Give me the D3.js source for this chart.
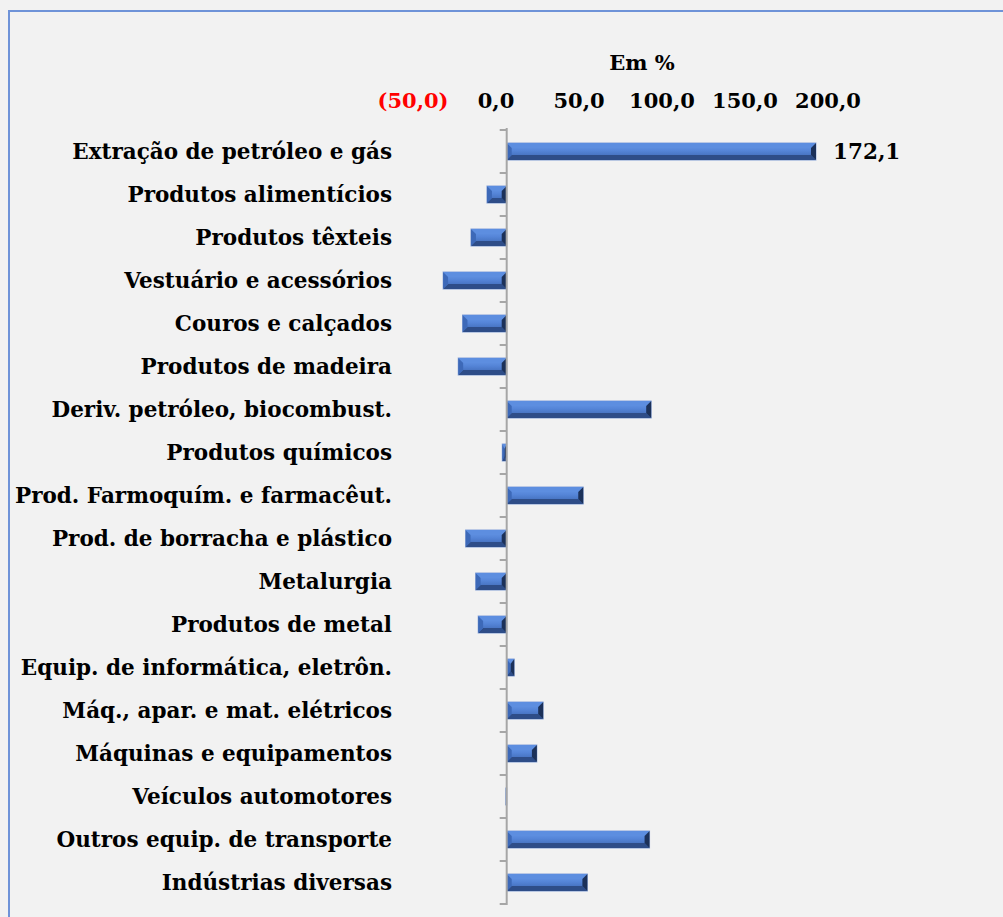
<!DOCTYPE html>
<html>
<head>
<meta charset="utf-8">
<script src="https://cdn.jsdelivr.net/npm/d3@7"></script>
<style>
  html, body { margin: 0; padding: 0; background: #f2f2f2; }
  svg { display: block; }
  text { font-family: "DejaVu Serif", "Liberation Serif", serif; font-weight: bold; }
</style>
</head>
<body>
<svg id="chart" width="1003" height="917"></svg>
<script>
// data (% change)
var categories = [
	"Extração de petróleo e gás",
	"Produtos alimentícios",
	"Produtos têxteis",
	"Vestuário e acessórios",
	"Couros e calçados",
	"Produtos de madeira",
	"Deriv. petróleo, biocombust.",
	"Produtos químicos",
	"Prod. Farmoquím. e farmacêut.",
	"Prod. de borracha e plástico",
	"Metalurgia",
	"Produtos de metal",
	"Equip. de informática, eletrôn.",
	"Máq., apar. e mat. elétricos",
	"Máquinas e equipamentos",
	"Veículos automotores",
	"Outros equip. de transporte",
	"Indústrias diversas"
];
var values = [172.1, -11.0, -19.9, -35.4, -24.6, -27.0, 80.4, -2.5, 42.6, -22.9, -17.3, -15.9, 4.2, 20.3, 16.8, -0.5, 79.5, 44.9];
// only some bars carry a value label
var valueLabels = ["172,1", null, null, null, null, null, "80,4", null, null, null, null, null, null, null, null, null, "79,5", "44,9"];
var tickValues = [-50, 0, 50, 100, 150, 200];
var tickLabels = ["(50,0)", "0,0", "50,0", "100,0", "150,0", "200,0"];
var unitLabel = "Em %";

var svg = d3.select("#chart");

// outer frame
svg.append("rect")
	.attr("x", 9).attr("y", 11)
	.attr("width", 1100).attr("height", 1000)
	.style("fill", "#f2f2f2")
	.style("stroke", "#6f93d8")
	.style("stroke-width", 2);

var x = d3.scaleLinear().domain([0, 172.1]).range([506.7, 816]);
// the top labels sit on their own spacing in the original
var xLabels = d3.scaleLinear().domain([-50, 200]).range([413, 828]);
var y = d3.scaleBand().domain(categories).range([130, 904]).paddingInner(0.6).paddingOuter(0.3);

// gradient for the bevelled bars
var defs = svg.append("defs");
var face = defs.append("linearGradient").attr("id", "face")
	.attr("x1", "0%").attr("x2", "0%").attr("y1", "0%").attr("y2", "100%");
face.append("stop").attr("offset", "0%").style("stop-color", "#6a9bea");
face.append("stop").attr("offset", "45%").style("stop-color", "#5585d8");
face.append("stop").attr("offset", "100%").style("stop-color", "#3a63ad");

// axis labels on top
svg.append("text")
	.attr("x", 642).attr("y", 70)
	.attr("text-anchor", "middle")
	.style("font-size", "21px")
	.style("fill", "#000")
	.text(unitLabel);

svg.append("g").selectAll("text")
	.data(tickValues)
	.enter()
	.append("text")
	.attr("x", d => xLabels(d))
	.attr("y", 108)
	.attr("text-anchor", "middle")
	.style("font-size", "21px")
	.style("fill", d => d < 0 ? "#ff0000" : "#000")
	.text((d, i) => tickLabels[i]);

// category labels
svg.append("g").selectAll("text")
	.data(categories)
	.enter()
	.append("text")
	.attr("x", 392)
	.attr("y", d => y(d) + y.bandwidth() / 2)
	.attr("dy", "0.35em")
	.attr("text-anchor", "end")
	.style("font-size", "21.5px")
	.style("fill", "#000")
	.text(d => d);

// bars
var bars = svg.append("g").selectAll("g")
	.data(values)
	.enter()
	.append("g");

function bevel(d, i) {
	var x0 = Math.min(x(0), x(d)), x1 = Math.max(x(0), x(d));
	var y0 = y(categories[i]), y1 = y0 + y.bandwidth();
	var b = Math.min(5, (x1 - x0) / 2);
	return { x0: x0, x1: x1, y0: y0, y1: y1, b: b };
}

bars.append("rect")
	.attr("x", (d, i) => bevel(d, i).x0)
	.attr("y", (d, i) => bevel(d, i).y0)
	.attr("width", (d, i) => Math.max(1, bevel(d, i).x1 - bevel(d, i).x0))
	.attr("height", y.bandwidth())
	.style("fill", "url(#face)")
	.style("stroke", "#9fb4dc")
	.style("stroke-width", 1);

// top bevel (light)
bars.append("path")
	.attr("d", (d, i) => {
		var r = bevel(d, i);
		return `M${r.x0},${r.y0}L${r.x1},${r.y0}L${r.x1 - r.b},${r.y0 + 5}L${r.x0 + r.b},${r.y0 + 5}Z`;
	})
	.style("fill", "#5d8ee0");

// bottom bevel (dark)
bars.append("path")
	.attr("d", (d, i) => {
		var r = bevel(d, i);
		return `M${r.x0},${r.y1}L${r.x1},${r.y1}L${r.x1 - r.b},${r.y1 - 5}L${r.x0 + r.b},${r.y1 - 5}Z`;
	})
	.style("fill", "#2e4d88");

// end bevels
bars.append("path")
	.attr("d", (d, i) => {
		var r = bevel(d, i);
		return `M${r.x1},${r.y0}L${r.x1},${r.y1}L${r.x1 - r.b},${r.y1 - 5}L${r.x1 - r.b},${r.y0 + 5}Z`;
	})
	.style("fill", "#1c3159");
bars.append("path")
	.attr("d", (d, i) => {
		var r = bevel(d, i);
		return `M${r.x0},${r.y0}L${r.x0},${r.y1}L${r.x0 + r.b},${r.y1 - 5}L${r.x0 + r.b},${r.y0 + 5}Z`;
	})
	.style("fill", "#3d69b8");

// value labels
svg.append("g").selectAll("text")
	.data(values)
	.enter()
	.filter((d, i) => valueLabels[i] !== null)
	.append("text")
	.attr("x", d => x(d) + 17)
	.attr("y", (d, i) => y(categories[i]) + y.bandwidth() / 2)
	.attr("dy", "0.35em")
	.style("font-size", "21.5px")
	.style("fill", "#000")
	.text((d, i) => valueLabels[i]);

// vertical axis with ticks between categories
var axisG = svg.append("g");
axisG.append("line")
	.attr("x1", x(0)).attr("x2", x(0))
	.attr("y1", 128).attr("y2", 905)
	.style("stroke", "#a6a6a6")
	.style("stroke-width", 2);
axisG.selectAll("line.tick")
	.data(d3.range(categories.length + 1))
	.enter()
	.append("line")
	.attr("class", "tick")
	.attr("x1", x(0) - 7).attr("x2", x(0))
	.attr("y1", i => 130 + i * y.step())
	.attr("y2", i => 130 + i * y.step())
	.style("stroke", "#a6a6a6")
	.style("stroke-width", 2);
</script>
</body>
</html>
